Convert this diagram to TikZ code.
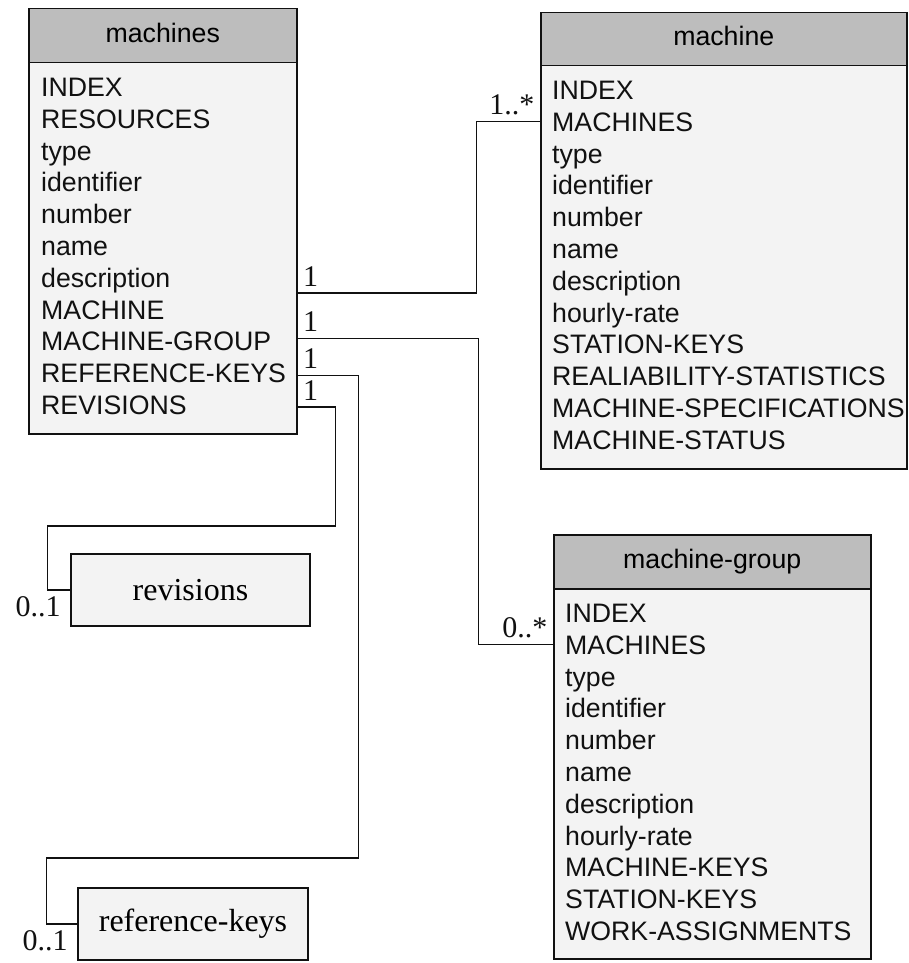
\documentclass[tikz,border=0pt]{standalone}
\usepackage{fontspec}
\setmainfont{Liberation Serif}
\setsansfont{Liberation Sans}
\usepackage{tikz}
\usetikzlibrary{positioning}
\definecolor{headfill}{HTML}{BDBDBD}
\definecolor{bodyfill}{HTML}{F3F3F3}
\definecolor{ink}{HTML}{111111}

\begin{document}
\begin{tikzpicture}[x=1pt,y=-1pt,font=\sffamily\fontsize{26.7}{31.8}\selectfont,
    classhead/.style={draw=ink,line width=1.5pt,fill=headfill,inner sep=0pt,minimum height=54pt,
      text height=19pt,text depth=5.5pt,anchor=north west},
    classbody/.style={draw=ink,line width=1.5pt,fill=bodyfill,inner sep=0pt,anchor=north west},
    attr/.style={anchor=west,inner sep=0pt,text height=19pt,text depth=0pt,text=ink},
    leafbox/.style={draw=ink,line width=1.5pt,fill=bodyfill,inner sep=0pt,minimum height=72pt,
      font=\rmfamily\fontsize{32}{32}\selectfont},
    link/.style={draw=ink,line width=1.2pt},
    mult/.style={inner xsep=5pt,inner ysep=6pt,text=ink,font=\rmfamily\fontsize{30}{30}\selectfont}]
  \fill[white] (0,0) rectangle (909,963);

  % machines
  \node[classbody,minimum width=268pt,minimum height=371pt] (machines-b) at (28,62) {};
  \node[classhead,minimum width=268pt] (machines) at (28,8) {machines};
  \foreach \lab [count=\i] in {INDEX,RESOURCES,type,identifier,number,name,description,
      MACHINE,MACHINE-GROUP,REFERENCE-KEYS,REVISIONS} {
    \node[attr] (machines-\i) at (41,{87+31.8*(\i-1)}) {\lab};
  }

  % machine
  \node[classbody,minimum width=366pt,minimum height=403pt] (machine-b) at (540,65) {};
  \node[classhead,minimum width=366pt,minimum height=53pt] (machine) at (540,12) {machine};
  \foreach \lab [count=\i] in {INDEX,MACHINES,type,identifier,number,name,description,
      hourly-rate,STATION-KEYS,REALIABILITY-STATISTICS,MACHINE-SPECIFICATIONS,MACHINE-STATUS} {
    \node[attr] (machine-\i) at (552,{90+31.8*(\i-1)}) {\lab};
  }

  % machine-group
  \node[classbody,minimum width=317pt,minimum height=370pt] (mgroup-b) at (553,588) {};
  \node[classhead,minimum width=317pt] (mgroup) at (553,534) {machine-group};
  \foreach \lab [count=\i] in {INDEX,MACHINES,type,identifier,number,name,description,
      hourly-rate,MACHINE-KEYS,STATION-KEYS,WORK-ASSIGNMENTS} {
    \node[attr] (mgroup-\i) at (565,{613+31.8*(\i-1)}) {\lab};
  }

  % plain classes
  \node[leafbox,minimum width=239pt] (revisions) at (190.5,590) {revisions};
  \node[leafbox,minimum width=230pt] (refkeys) at (193,924) {reference-keys};

  % associations
  \draw[link] ([yshift=7pt]machines-8.north -| machines-b.east) node[mult,above right] {1}
    -- ++(179,0) |- (machine-2 -| machine-b.west) node[mult,above left] {1..*};
  \draw[link] ([yshift=3pt]machines-9 -| machines-b.east) node[mult,above right] {1}
    -- ++(181,0) |- (mgroup-2 -| mgroup-b.west) node[mult,above left] {0..*};
  \draw[link] ([yshift=-2pt]machines-10 -| machines-b.east) node[mult,above right] {1}
    -- ++(61,0) |- ([xshift=-31pt,yshift=66pt]refkeys.west) |- (refkeys.west)
    node[mult,below left,xshift=-4pt] {0..1};
  \draw[link] ([yshift=-2pt]machines-11 -| machines-b.east) node[mult,above right] {1}
    -- ++(38,0) |- ([xshift=-23pt,yshift=64pt]revisions.west) |- (revisions.west)
    node[mult,below left,xshift=-4pt] {0..1};
\end{tikzpicture}
\end{document}
